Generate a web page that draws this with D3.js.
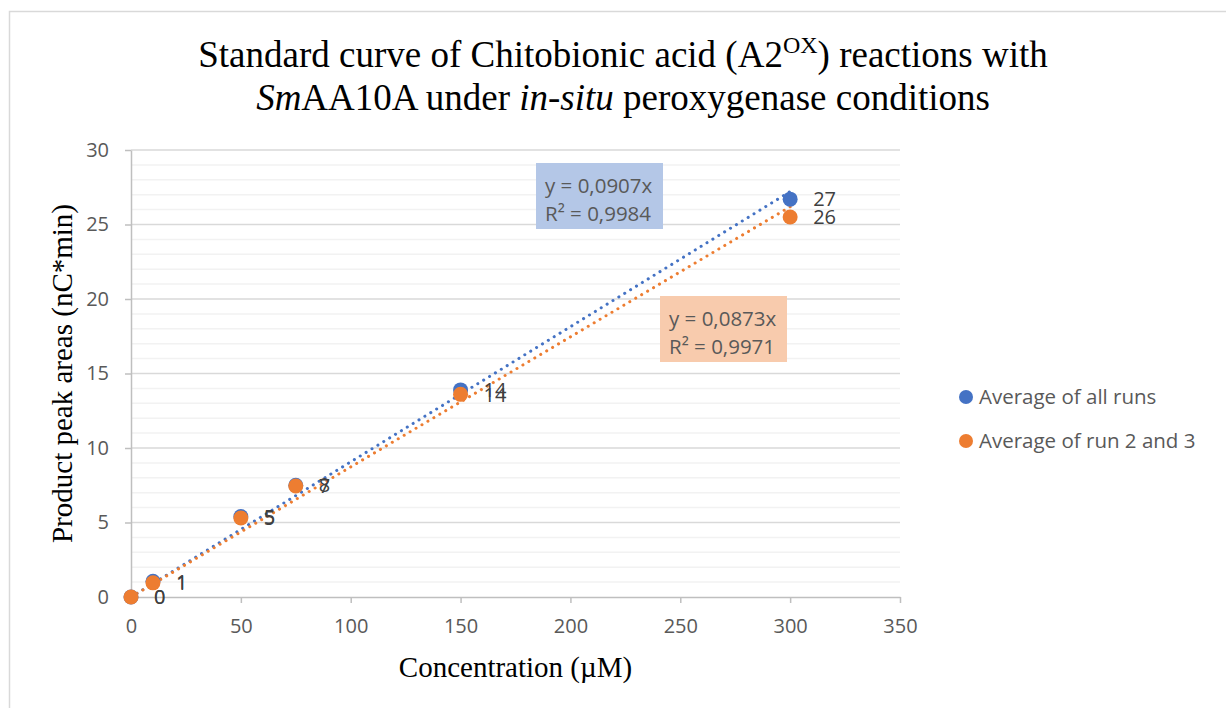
<!DOCTYPE html>
<html>
<head>
<meta charset="utf-8">
<script src="https://cdn.jsdelivr.net/npm/d3@7/dist/d3.min.js"></script>
<style>
  html, body { margin: 0; padding: 0; background: #fff; }
  svg { display: block; }
</style>
</head>
<body>
<svg id="chart" width="1226" height="708"></svg>
<script>
// Concentrations (µM) and averaged product peak areas (nC*min)
const concentrations = [0, 10, 50, 75, 150, 300];
const avgAllRuns = [0, 1.05, 5.4, 7.5, 13.9, 26.7];
const avgRuns23 = [0, 0.95, 5.3, 7.45, 13.6, 25.5];

// Linear fits through the origin
const slopeAll = 0.0907, r2All = 0.9984;
const slope23 = 0.0873, r2_23 = 0.9971;

const seriesNames = ["Average of all runs", "Average of run 2 and 3"];
const seriesColors = ["#4472C4", "#ED7D31"];
const xTicks = [0, 50, 100, 150, 200, 250, 300, 350];
const yTicks = [0, 5, 10, 15, 20, 25, 30];

const svg = d3.select("#chart");
const sans = "'Open Sans', 'Noto Sans', sans-serif";
const serif = "'Liberation Serif', 'Times New Roman', serif";

// chart frame
svg.append("path")
  .attr("d", "M9.5,708 L9.5,11.5 L1226,11.5")
  .attr("fill", "none").attr("stroke", "#d9d9d9").attr("stroke-width", 1.5);

const x = d3.scaleLinear().domain([0, 350]).range([131, 900]);
const y = d3.scaleLinear().domain([0, 30]).range([597, 150]);

// minor gridlines
svg.append("g").selectAll("line")
  .data(d3.range(1, 31).filter(v => v % 5 !== 0))
  .join("line")
  .attr("x1", x(0)).attr("x2", x(350))
  .attr("y1", d => y(d)).attr("y2", d => y(d))
  .attr("stroke", "#f2f2f2").attr("stroke-width", 1.5);

// major gridlines
svg.append("g").selectAll("line")
  .data(yTicks.filter(v => v > 0))
  .join("line")
  .attr("x1", x(0)).attr("x2", x(350))
  .attr("y1", d => y(d)).attr("y2", d => y(d))
  .attr("stroke", "#d9d9d9").attr("stroke-width", 1.5);

// axes
const yAxis = svg.append("g")
  .attr("transform", `translate(${x(0)},0)`)
  .call(d3.axisLeft(y).tickValues(yTicks).tickSize(6).tickPadding(16).tickSizeOuter(0));
const xAxis = svg.append("g")
  .attr("transform", `translate(0,${y(0)})`)
  .call(d3.axisBottom(x).tickValues(xTicks).tickSize(6).tickPadding(16).tickSizeOuter(0));
[yAxis, xAxis].forEach(g => {
  g.select(".domain").attr("stroke", "#bfbfbf").attr("stroke-width", 1.5);
  g.selectAll(".tick line").attr("stroke", "#bfbfbf").attr("stroke-width", 1.5);
  g.selectAll(".tick text").attr("fill", "#595959")
    .style("font-family", sans).style("font-size", "20px");
});

// trendlines
const fits = [slopeAll, slope23];
fits.forEach((s, i) => {
  svg.append("line")
    .attr("x1", x(0)).attr("y1", y(0))
    .attr("x2", x(300)).attr("y2", y(s * 300))
    .attr("stroke", seriesColors[i]).attr("stroke-width", 3)
    .attr("stroke-linecap", "round")
    .attr("stroke-dasharray", "0.1 6.8");
});

// points and value labels
const series = [avgAllRuns, avgRuns23];
const fmt = d3.format(".0f");
series.forEach((vals, i) => {
  const pts = concentrations.map((c, j) => ({ c, v: vals[j] }));
  svg.append("g").selectAll("circle")
    .data(pts).join("circle")
    .attr("cx", d => x(d.c)).attr("cy", d => y(d.v))
    .attr("r", 7.5).attr("fill", seriesColors[i]);
});
series.forEach((vals, i) => {
  const pts = concentrations.map((c, j) => ({ c, v: vals[j] }));
  svg.append("g").selectAll("text")
    .data(pts).join("text")
    .attr("x", d => x(d.c) + 23).attr("y", d => y(d.v))
    .attr("dy", "0.36em")
    .attr("fill", "#404040")
    .style("font-family", sans).style("font-size", "20px")
    .text(d => fmt(d.v));
});

// equation boxes
function eqBox(bx, by, w, h, fill, slope, r2) {
  const g = svg.append("g");
  g.append("rect").attr("x", bx).attr("y", by).attr("width", w).attr("height", h).attr("fill", fill);
  const fmtC = v => d3.format(".4f")(v).replace(".", ",");
  g.append("text").attr("x", bx + 9).attr("y", by + 30)
    .attr("fill", "#595959").style("font-family", sans).style("font-size", "20.5px")
    .text(`y = ${fmtC(slope)}x`);
  g.append("text").attr("x", bx + 9).attr("y", by + 58)
    .attr("fill", "#595959").style("font-family", sans).style("font-size", "20.5px")
    .text(`R² = ${fmtC(r2)}`);
}
eqBox(536, 163, 127, 66, "#b4c7e7", slopeAll, r2All);
eqBox(660, 296, 127, 66, "#f8cbad", slope23, r2_23);

// legend
const legend = svg.append("g").selectAll("g")
  .data(seriesNames).join("g")
  .attr("transform", (d, i) => `translate(966,${397 + i * 44})`);
legend.append("circle").attr("r", 7).attr("fill", (d, i) => seriesColors[i]);
legend.append("text").attr("x", 13).attr("dy", "0.36em")
  .attr("fill", "#595959").style("font-family", sans).style("font-size", "20.5px")
  .text(d => d);

// title
const title = svg.append("text")
  .attr("text-anchor", "middle").attr("fill", "#000")
  .style("font-family", serif).style("font-size", "37px");
const l1 = title.append("tspan").attr("x", 623).attr("y", 67);
l1.append("tspan").text("Standard curve of Chitobionic acid (A2");
l1.append("tspan").attr("dy", -14).style("font-size", "24px").text("OX");
l1.append("tspan").attr("dy", 14).text(") reactions with");
const l2 = title.append("tspan").attr("x", 623).attr("y", 110);
l2.append("tspan").style("font-style", "italic").text("Sm");
l2.append("tspan").text("AA10A under ");
l2.append("tspan").style("font-style", "italic").text("in-situ");
l2.append("tspan").text(" peroxygenase conditions");

// axis titles
svg.append("text")
  .attr("x", x(175)).attr("y", 677).attr("text-anchor", "middle")
  .style("font-family", serif).style("font-size", "29px").attr("fill", "#000")
  .text("Concentration (µM)");
svg.append("text")
  .attr("transform", `translate(72,${y(15)}) rotate(-90)`)
  .attr("text-anchor", "middle")
  .style("font-family", serif).style("font-size", "29px").attr("fill", "#000")
  .text("Product peak areas (nC*min)");
</script>
</body>
</html>
